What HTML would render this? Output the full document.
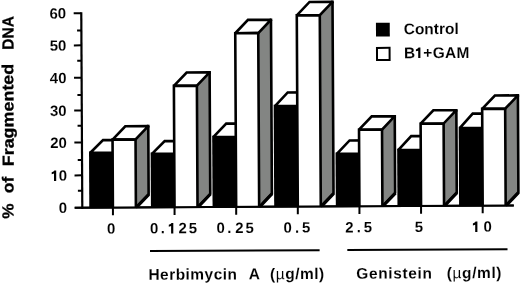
<!DOCTYPE html>
<html><head><meta charset="utf-8"><style>
html,body{margin:0;padding:0;background:#fff;}
body{width:520px;height:284px;overflow:hidden;}
svg{display:block;will-change:transform;filter:blur(0.3px);}
.t{font-family:"Liberation Sans",sans-serif;font-weight:bold;font-size:15px;fill:#000;stroke:#fff;stroke-width:0.1px;}
.mu{font-weight:normal;}
.yt{font-size:16px;text-rendering:geometricPrecision;stroke:#000;stroke-width:0.3px;}
.t2{font-size:15.5px;}
</style></head><body>
<svg width="520" height="284" viewBox="0 0 520 284">
<rect width="520" height="284" fill="#fff"/>
<g transform="rotate(-0.3 113 207.6)">
<line x1="82.3" y1="12" x2="82.3" y2="208.7" stroke="#000" stroke-width="2.2"/>
<line x1="74.7" y1="207.6" x2="513.8" y2="207.6" stroke="#000" stroke-width="2.0"/>
<line x1="74.7" y1="175.2" x2="82.3" y2="175.2" stroke="#000" stroke-width="2"/>
<line x1="74.7" y1="142.4" x2="82.3" y2="142.4" stroke="#000" stroke-width="2"/>
<line x1="74.7" y1="110.4" x2="82.3" y2="110.4" stroke="#000" stroke-width="2"/>
<line x1="74.7" y1="77.6" x2="82.3" y2="77.6" stroke="#000" stroke-width="2"/>
<line x1="74.7" y1="45.2" x2="82.3" y2="45.2" stroke="#000" stroke-width="2"/>
<line x1="74.7" y1="13" x2="82.3" y2="13" stroke="#000" stroke-width="2"/>
<line x1="78.0" y1="190.6" x2="82.3" y2="190.6" stroke="#000" stroke-width="2"/>
<line x1="78.0" y1="159.8" x2="82.3" y2="159.8" stroke="#000" stroke-width="2"/>
<line x1="78.0" y1="125.6" x2="82.3" y2="125.6" stroke="#000" stroke-width="2"/>
<line x1="78.0" y1="94.8" x2="82.3" y2="94.8" stroke="#000" stroke-width="2"/>
<line x1="78.0" y1="60.6" x2="82.3" y2="60.6" stroke="#000" stroke-width="2"/>
<line x1="78.0" y1="30.4" x2="82.3" y2="30.4" stroke="#000" stroke-width="2"/>
<text x="67.2" y="212.6" text-anchor="end" class="t">0</text>
<text x="67.2" y="180.5" text-anchor="end" class="t">0</text>
<text x="67.2" y="147.7" text-anchor="end" class="t">20</text>
<text x="67.2" y="115.7" text-anchor="end" class="t">30</text>
<text x="67.2" y="82.9" text-anchor="end" class="t">40</text>
<text x="67.2" y="50.5" text-anchor="end" class="t">50</text>
<text x="67.2" y="18.3" text-anchor="end" class="t">60</text>
<rect x="89.3" y="151.35" width="23.6" height="56.25" fill="#000"/>
<polygon points="90.6,152.65 103.4,140.1 125.7,140.1 112.9,152.65" fill="#fff" stroke="#000" stroke-width="2.6" stroke-linejoin="miter" stroke-miterlimit="2"/>
<polygon points="135.9,139.6 148.7,126.3 148.7,194.3 135.9,207.6" fill="#838583"/>
<path d="M148.7,126.3V194.3L135.9,207.6" fill="none" stroke="#000" stroke-width="2.6" stroke-linejoin="miter" stroke-miterlimit="2"/>
<line x1="149" y1="194.6" x2="136.9" y2="207.2" stroke="#000" stroke-width="3.0"/>
<polygon points="112.9,139.6 125.7,126.3 148.7,126.3 135.9,139.6" fill="#fff" stroke="#000" stroke-width="2.6" stroke-linejoin="miter" stroke-miterlimit="2"/>
<rect x="147.4" y="125" width="2.6" height="2.6" fill="#000"/>
<path d="M112.9,207.6V139.6H135.9V207.6" fill="#fff" stroke="#000" stroke-width="2.6" stroke-linejoin="miter" stroke-miterlimit="2"/>
<line x1="112.9" y1="207.6" x2="112.9" y2="215.3" stroke="#000" stroke-width="2"/>
<rect x="150.93" y="152.75" width="23.6" height="54.85" fill="#000"/>
<polygon points="152.23,154.05 165.03,141.35 187.33,141.35 174.53,154.05" fill="#fff" stroke="#000" stroke-width="2.6" stroke-linejoin="miter" stroke-miterlimit="2"/>
<polygon points="197.53,86.2 210.33,72.9 210.33,194.3 197.53,207.6" fill="#838583"/>
<path d="M210.33,72.9V194.3L197.53,207.6" fill="none" stroke="#000" stroke-width="2.6" stroke-linejoin="miter" stroke-miterlimit="2"/>
<line x1="210.63" y1="194.6" x2="198.53" y2="207.2" stroke="#000" stroke-width="3.0"/>
<polygon points="174.53,86.2 187.33,72.9 210.33,72.9 197.53,86.2" fill="#fff" stroke="#000" stroke-width="2.6" stroke-linejoin="miter" stroke-miterlimit="2"/>
<rect x="209.03" y="71.6" width="2.6" height="2.6" fill="#000"/>
<path d="M174.53,207.6V86.2H197.53V207.6" fill="#fff" stroke="#000" stroke-width="2.6" stroke-linejoin="miter" stroke-miterlimit="2"/>
<line x1="174.53" y1="207.6" x2="174.53" y2="215.3" stroke="#000" stroke-width="2"/>
<rect x="212.56" y="136.2" width="23.6" height="71.4" fill="#000"/>
<polygon points="213.86,137.5 226.66,124.25 248.96,124.25 236.16,137.5" fill="#fff" stroke="#000" stroke-width="2.6" stroke-linejoin="miter" stroke-miterlimit="2"/>
<polygon points="259.16,33.9 271.96,20.6 271.96,194.3 259.16,207.6" fill="#838583"/>
<path d="M271.96,20.6V194.3L259.16,207.6" fill="none" stroke="#000" stroke-width="2.6" stroke-linejoin="miter" stroke-miterlimit="2"/>
<line x1="272.26" y1="194.6" x2="260.16" y2="207.2" stroke="#000" stroke-width="3.0"/>
<polygon points="236.16,33.9 248.96,20.6 271.96,20.6 259.16,33.9" fill="#fff" stroke="#000" stroke-width="2.6" stroke-linejoin="miter" stroke-miterlimit="2"/>
<rect x="270.66" y="19.3" width="2.6" height="2.6" fill="#000"/>
<path d="M236.16,207.6V33.9H259.16V207.6" fill="#fff" stroke="#000" stroke-width="2.6" stroke-linejoin="miter" stroke-miterlimit="2"/>
<line x1="236.16" y1="207.6" x2="236.16" y2="215.3" stroke="#000" stroke-width="2"/>
<rect x="274.19" y="105.7" width="23.6" height="101.9" fill="#000"/>
<polygon points="275.49,107 288.29,93.4 310.59,93.4 297.79,107" fill="#fff" stroke="#000" stroke-width="2.6" stroke-linejoin="miter" stroke-miterlimit="2"/>
<polygon points="320.79,16.3 333.59,3 333.59,194.3 320.79,207.6" fill="#838583"/>
<path d="M333.59,3V194.3L320.79,207.6" fill="none" stroke="#000" stroke-width="2.6" stroke-linejoin="miter" stroke-miterlimit="2"/>
<line x1="333.89" y1="194.6" x2="321.79" y2="207.2" stroke="#000" stroke-width="3.0"/>
<polygon points="297.79,16.3 310.59,3 333.59,3 320.79,16.3" fill="#fff" stroke="#000" stroke-width="2.6" stroke-linejoin="miter" stroke-miterlimit="2"/>
<rect x="332.29" y="1.7" width="2.6" height="2.6" fill="#000"/>
<path d="M297.79,207.6V16.3H320.79V207.6" fill="#fff" stroke="#000" stroke-width="2.6" stroke-linejoin="miter" stroke-miterlimit="2"/>
<line x1="297.79" y1="207.6" x2="297.79" y2="215.3" stroke="#000" stroke-width="2"/>
<rect x="335.82" y="153.7" width="23.6" height="53.9" fill="#000"/>
<polygon points="337.12,155 349.92,141.7 372.22,141.7 359.42,155" fill="#fff" stroke="#000" stroke-width="2.6" stroke-linejoin="miter" stroke-miterlimit="2"/>
<polygon points="382.42,131 395.22,117.7 395.22,194.3 382.42,207.6" fill="#838583"/>
<path d="M395.22,117.7V194.3L382.42,207.6" fill="none" stroke="#000" stroke-width="2.6" stroke-linejoin="miter" stroke-miterlimit="2"/>
<line x1="395.52" y1="194.6" x2="383.42" y2="207.2" stroke="#000" stroke-width="3.0"/>
<polygon points="359.42,131 372.22,117.7 395.22,117.7 382.42,131" fill="#fff" stroke="#000" stroke-width="2.6" stroke-linejoin="miter" stroke-miterlimit="2"/>
<rect x="393.92" y="116.4" width="2.6" height="2.6" fill="#000"/>
<path d="M359.42,207.6V131H382.42V207.6" fill="#fff" stroke="#000" stroke-width="2.6" stroke-linejoin="miter" stroke-miterlimit="2"/>
<line x1="359.42" y1="207.6" x2="359.42" y2="215.3" stroke="#000" stroke-width="2"/>
<rect x="397.45" y="150.15" width="23.6" height="57.45" fill="#000"/>
<polygon points="398.75,151.45 411.55,137.65 433.85,137.65 421.05,151.45" fill="#fff" stroke="#000" stroke-width="2.6" stroke-linejoin="miter" stroke-miterlimit="2"/>
<polygon points="444.05,125.3 456.85,112 456.85,194.3 444.05,207.6" fill="#838583"/>
<path d="M456.85,112V194.3L444.05,207.6" fill="none" stroke="#000" stroke-width="2.6" stroke-linejoin="miter" stroke-miterlimit="2"/>
<line x1="457.15" y1="194.6" x2="445.05" y2="207.2" stroke="#000" stroke-width="3.0"/>
<polygon points="421.05,125.3 433.85,112 456.85,112 444.05,125.3" fill="#fff" stroke="#000" stroke-width="2.6" stroke-linejoin="miter" stroke-miterlimit="2"/>
<rect x="455.55" y="110.7" width="2.6" height="2.6" fill="#000"/>
<path d="M421.05,207.6V125.3H444.05V207.6" fill="#fff" stroke="#000" stroke-width="2.6" stroke-linejoin="miter" stroke-miterlimit="2"/>
<line x1="421.05" y1="207.6" x2="421.05" y2="215.3" stroke="#000" stroke-width="2"/>
<rect x="459.08" y="128.45" width="23.6" height="79.15" fill="#000"/>
<polygon points="460.38,129.75 473.18,115.5 495.48,115.5 482.68,129.75" fill="#fff" stroke="#000" stroke-width="2.6" stroke-linejoin="miter" stroke-miterlimit="2"/>
<polygon points="505.68,110.8 518.48,97.5 518.48,194.3 505.68,207.6" fill="#838583"/>
<path d="M518.48,97.5V194.3L505.68,207.6" fill="none" stroke="#000" stroke-width="2.6" stroke-linejoin="miter" stroke-miterlimit="2"/>
<line x1="518.78" y1="194.6" x2="506.68" y2="207.2" stroke="#000" stroke-width="3.0"/>
<polygon points="482.68,110.8 495.48,97.5 518.48,97.5 505.68,110.8" fill="#fff" stroke="#000" stroke-width="2.6" stroke-linejoin="miter" stroke-miterlimit="2"/>
<rect x="517.18" y="96.2" width="2.6" height="2.6" fill="#000"/>
<path d="M482.68,207.6V110.8H505.68V207.6" fill="#fff" stroke="#000" stroke-width="2.6" stroke-linejoin="miter" stroke-miterlimit="2"/>
<line x1="482.68" y1="207.6" x2="482.68" y2="215.3" stroke="#000" stroke-width="2"/>
<line x1="74.7" y1="207.6" x2="513.8" y2="207.6" stroke="#000" stroke-width="2.0"/>
<text x="111.05" y="233.6" text-anchor="middle" class="t">0</text>
<text x="154.15" y="233.6" text-anchor="middle" class="t">0</text>
<text x="162.65" y="233.6" text-anchor="middle" class="t">.</text>
<text x="182.5" y="233.6" text-anchor="middle" class="t">2</text>
<text x="192.75" y="233.6" text-anchor="middle" class="t">5</text>
<text x="220.6" y="233.6" text-anchor="middle" class="t">0</text>
<text x="229.2" y="233.6" text-anchor="middle" class="t">.</text>
<text x="239.3" y="233.6" text-anchor="middle" class="t">2</text>
<text x="249.6" y="233.6" text-anchor="middle" class="t">5</text>
<text x="287.6" y="233.6" text-anchor="middle" class="t">0</text>
<text x="297.05" y="233.6" text-anchor="middle" class="t">.</text>
<text x="306.15" y="233.6" text-anchor="middle" class="t">5</text>
<text x="349.25" y="233.6" text-anchor="middle" class="t">2</text>
<text x="358.65" y="233.6" text-anchor="middle" class="t">.</text>
<text x="367.7" y="233.6" text-anchor="middle" class="t">5</text>
<text x="418.85" y="233.6" text-anchor="middle" class="t">5</text>
<text x="487.5" y="233.6" text-anchor="middle" class="t">0</text>
<line x1="149.8" y1="251.3" x2="319.4" y2="251.3" stroke="#000" stroke-width="2"/>
<line x1="347.1" y1="251.3" x2="507.3" y2="251.3" stroke="#000" stroke-width="2"/>
<text x="148.1" y="280" class="t t2" style="letter-spacing:0.45px">Herbimycin</text>
<text x="248.4" y="280" class="t t2">A</text>
<text x="269.7" y="280" class="t t2" style="letter-spacing:0.5px">(<tspan class="mu">µ</tspan>g/ml)</text>
<text x="355.8" y="280" class="t t2" style="letter-spacing:0.65px">Genistein</text>
<text x="446.4" y="280" class="t t2" style="letter-spacing:0.6px">(<tspan class="mu">µ</tspan>g/ml)</text>
<rect x="376.9" y="24.2" width="13.8" height="13.8" fill="#000"/>
<rect x="377.8" y="49.3" width="12.6" height="12.1" fill="#fff" stroke="#000" stroke-width="2"/>
<text x="404.6" y="35.8" class="t t2" style="letter-spacing:0px">Control</text>
<text x="404.8" y="59.7" class="t t2">B</text>
<text x="424.1" y="59.7" class="t t2" style="letter-spacing:0.3px">+GAM</text>
</g>
<text transform="translate(13.5,32.9) rotate(-90.3) scale(0.97,1)" text-anchor="middle" class="t yt">DNA</text>
<text transform="translate(13.5,115) rotate(-90.3) scale(1.12,1)" text-anchor="middle" class="t yt">Fragmented</text>
<text transform="translate(13.5,184.95) rotate(-90.3) scale(1.1,1)" text-anchor="middle" class="t yt">of</text>
<text transform="translate(13.5,211.15) rotate(-90.3) scale(1.07,1)" text-anchor="middle" class="t yt">%</text>
<polygon points="56.2,181 56.2,170.4 54.4,170.4 53.5,171.4 51.7,172.3 51.7,174.2 54,173.6 54,181" fill="#000"/>
<polygon points="173.3,233.4 173.3,222.9 171.5,222.9 170.6,223.9 168.8,224.8 168.8,226.7 171.1,226.1 171.1,233.4" fill="#000"/>
<polygon points="477.4,231.9 477.4,221.6 475.6,221.6 474.7,222.6 472.9,223.5 472.9,225.4 475.2,224.8 475.2,231.9" fill="#000"/>
<polygon points="420.4,58.1 420.4,47.5 418.6,47.5 417.7,48.5 415.9,49.4 415.9,51.3 418.2,50.7 418.2,58.1" fill="#000"/>
</svg>
</body></html>
